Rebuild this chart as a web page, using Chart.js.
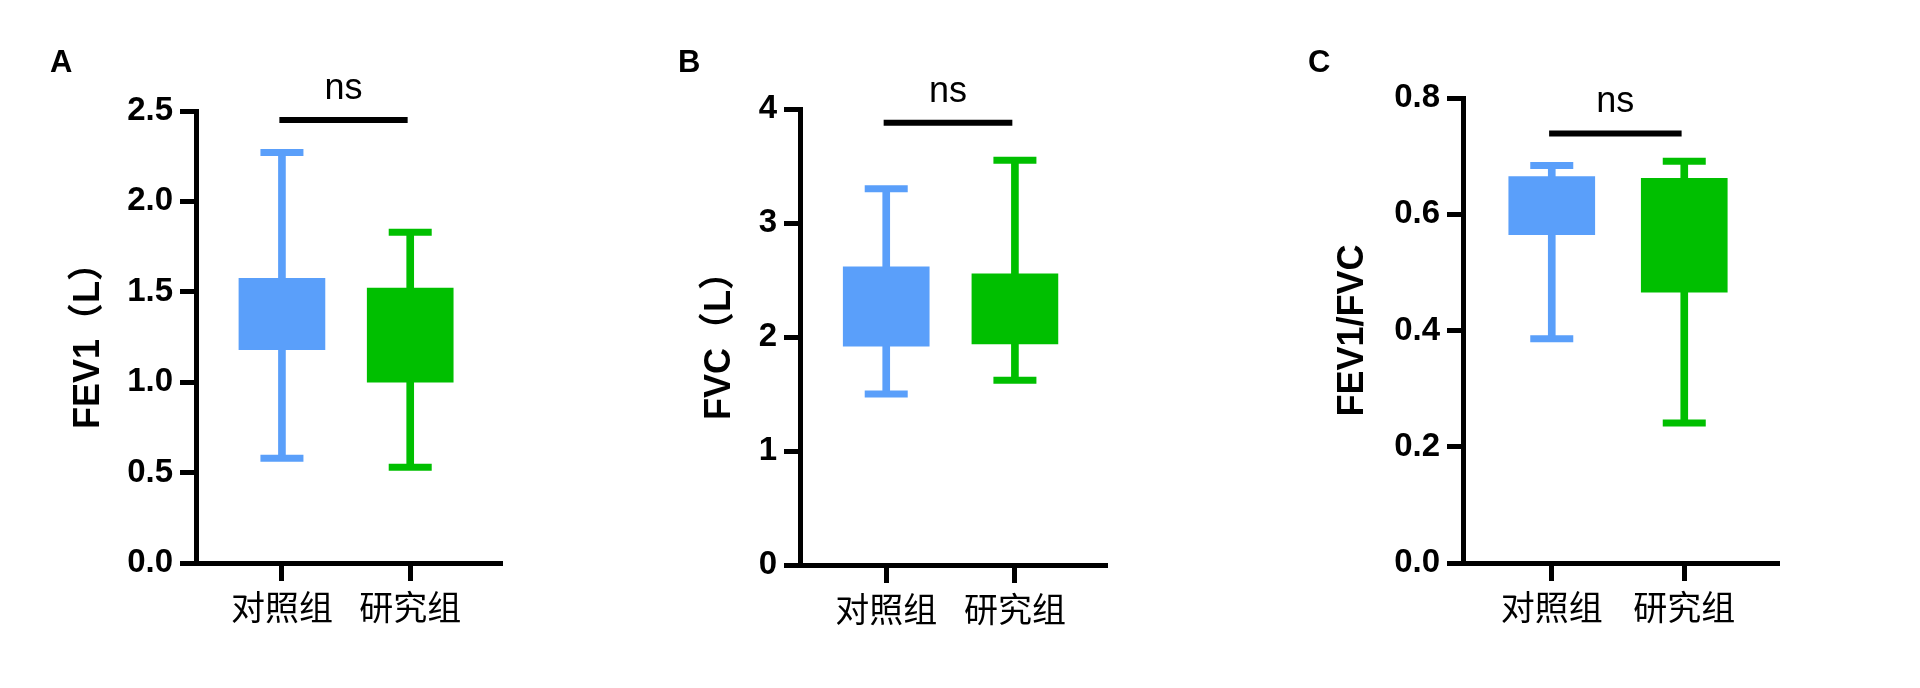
<!DOCTYPE html>
<html><head><meta charset="utf-8">
<script src="https://cdn.jsdelivr.net/npm/chart.js@4.4.1/dist/chart.umd.min.js"></script>
<style>
html,body{margin:0;padding:0;background:#fff;width:1920px;height:688px;overflow:hidden}
.p{position:absolute;top:0;width:640px;height:688px}
</style></head><body>
<div class="p" style="left:0"><canvas id="cA"></canvas></div>
<div class="p" style="left:640px"><canvas id="cB"></canvas></div>
<div class="p" style="left:1280px"><canvas id="cC"></canvas></div>
<script>
// ---- data ----
const categories = ['对照组', '研究组'];
const groupColors = ['#5a9ffa', '#00bf00'];

// Panel A: FEV1 (L)
const fev1Min = [0.58, 0.53];
const fev1Q1  = [1.18, 1.00];
const fev1Q3  = [1.575, 1.52];
const fev1Max = [2.27, 1.83];
const fev1Sig = 2.45;
const fev1Ticks = [0, 0.5, 1.0, 1.5, 2.0, 2.5];
const fev1TickLabels = ['0.0', '0.5', '1.0', '1.5', '2.0', '2.5'];

// Panel B: FVC (L)
const fvcMin = [1.50, 1.62];
const fvcQ1  = [1.92, 1.94];
const fvcQ3  = [2.615, 2.555];
const fvcMax = [3.30, 3.55];
const fvcSig = 3.88;
const fvcTicks = [0, 1, 2, 3, 4];
const fvcTickLabels = ['0', '1', '2', '3', '4'];

// Panel C: FEV1/FVC
const ratioMin = [0.386, 0.241];
const ratioQ1  = [0.565, 0.466];
const ratioQ3  = [0.665, 0.662];
const ratioMax = [0.684, 0.691];
const ratioSig = 0.739;
const ratioTicks = [0, 0.2, 0.4, 0.6, 0.8];
const ratioTickLabels = ['0.0', '0.2', '0.4', '0.6', '0.8'];

const sigSpan = [-0.02, 0.98];
const sigText = 'ns';

// ---- drawing ----
const BOLD = "'Liberation Sans', Arial, sans-serif";
const CJK = "'Noto Sans CJK SC', sans-serif";
const TITLE_FONT = "'Liberation Sans', 'Noto Sans CJK SC', sans-serif";

const annot = {
  id: 'annot',
  afterDatasetsDraw(chart, args, opts) {
    const ctx = chart.ctx;
    const xs = chart.scales.x, ys = chart.scales.y;
    ctx.save();
    ctx.fillStyle = '#000';
    ctx.font = "36px 'Liberation Sans', Arial, sans-serif";
    ctx.textAlign = 'center';
    ctx.textBaseline = 'alphabetic';
    const cx = (xs.getPixelForValue(opts.span[0]) + xs.getPixelForValue(opts.span[1])) / 2;
    ctx.fillText(opts.text, cx, ys.getPixelForValue(opts.sig) - 21);
    ctx.font = "bold 31px 'Liberation Sans', Arial, sans-serif";
    ctx.textAlign = 'left';
    ctx.fillText(opts.letter, opts.letterX, 72);
    ctx.restore();
  }
};

function makePanel(id, cfg) {
  const datasets = [
    { type: 'bar', data: categories.map((c, i) => ({ x: i, y: [cfg.min[i], cfg.max[i]] })),
      backgroundColor: groupColors, barThickness: 7, grouped: false, order: 3 },
    { type: 'bar', data: categories.map((c, i) => ({ x: i, y: [cfg.q1[i], cfg.q3[i]] })),
      backgroundColor: groupColors, barThickness: 86, grouped: false, order: 2 },
    { type: 'scatter', data: categories.map((c, i) => ({ x: i, y: cfg.min[i] })),
      pointStyle: 'line', pointRadius: 21.5, pointBorderWidth: 7, pointBorderColor: groupColors, order: 1 },
    { type: 'scatter', data: categories.map((c, i) => ({ x: i, y: cfg.max[i] })),
      pointStyle: 'line', pointRadius: 21.5, pointBorderWidth: 7, pointBorderColor: groupColors, order: 1 },
    { type: 'line', data: sigSpan.map(x => ({ x: x, y: cfg.sig })),
      borderColor: '#000', borderWidth: 6, pointRadius: 0, order: 0, clip: false }
  ];
  new Chart(document.getElementById(id), {
    type: 'bar',
    data: { datasets },
    plugins: [annot],
    options: {
      responsive: true, maintainAspectRatio: false, animation: false, events: [],
      layout: { padding: cfg.pad },
      plugins: { legend: { display: false }, tooltip: { enabled: false },
        annot: { span: sigSpan, sig: cfg.sig, text: sigText, letter: cfg.letter, letterX: cfg.letterX } },
      scales: {
        x: {
          type: 'linear', min: -0.67, max: 1.70, offset: false,
          afterBuildTicks: s => { s.ticks = categories.map((c, i) => ({ value: i })); },
          afterFit: s => { s.height = 80; },
          ticks: { callback: v => categories[v], color: '#000', padding: 6, maxRotation: 0, autoSkip: false,
                   font: { family: CJK, size: 34 } },
          grid: { offset: false, drawOnChartArea: false, drawTicks: true, tickLength: 18, lineWidth: 5, tickWidth: 5, color: '#000', tickColor: '#000' },
          border: { display: true, width: 5, color: '#000' }
        },
        y: {
          type: 'linear', min: cfg.ticks[0], max: cfg.ticks[cfg.ticks.length - 1],
          afterBuildTicks: s => { s.ticks = cfg.ticks.map(v => ({ value: v })); },
          afterFit: s => { s.width = 140; },
          ticks: { callback: (v, i) => cfg.labels[i], color: '#000', padding: 7, autoSkip: false,
                   font: { family: BOLD, size: 33, weight: 'bold' } },
          grid: { drawOnChartArea: false, drawTicks: true, tickLength: 16, lineWidth: 5, tickWidth: 5, color: '#000', tickColor: '#000' },
          border: { display: true, width: 5, color: '#000' },
          title: { display: true, text: cfg.title, color: '#000', padding: { top: cfg.titlePad, bottom: 0 },
                   font: { family: TITLE_FONT, size: 36, weight: 'bold' } }
        }
      }
    }
  });
}

makePanel('cA', { min: fev1Min, q1: fev1Q1, q3: fev1Q3, max: fev1Max, sig: fev1Sig,
  ticks: fev1Ticks, labels: fev1TickLabels, title: 'FEV1（L）', letter: 'A', letterX: 50,
  pad: { left: 56, right: 140, top: 111, bottom: 45 }, titlePad: 11 });
makePanel('cB', { min: fvcMin, q1: fvcQ1, q3: fvcQ3, max: fvcMax, sig: fvcSig,
  ticks: fvcTicks, labels: fvcTickLabels, title: 'FVC（L）', letter: 'B', letterX: 38,
  pad: { left: 20, right: 175, top: 109, bottom: 43 }, titlePad: 38 });
makePanel('cC', { min: ratioMin, q1: ratioQ1, q3: ratioQ3, max: ratioMax, sig: ratioSig,
  ticks: ratioTicks, labels: ratioTickLabels, title: 'FEV1/FVC', letter: 'C', letterX: 28,
  pad: { left: 43, right: 143, top: 98, bottom: 45 }, titlePad: 8 });
</script>
</body></html>
